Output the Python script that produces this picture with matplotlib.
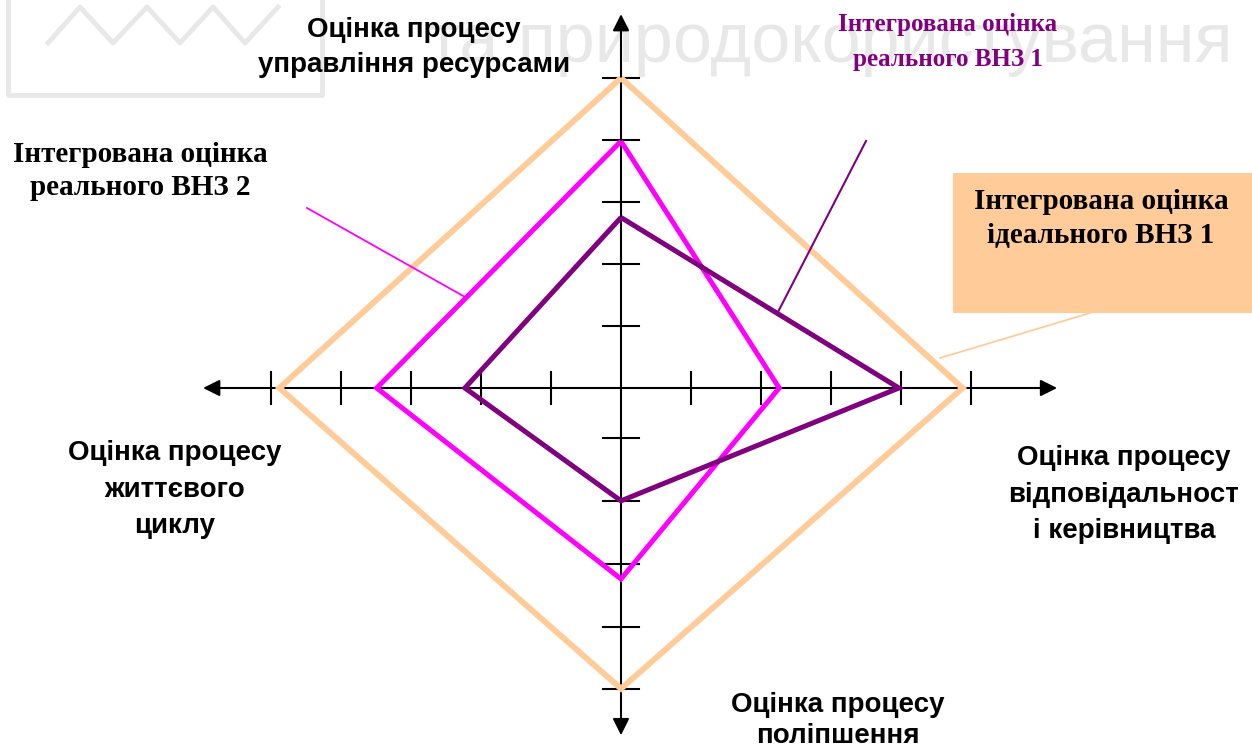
import matplotlib
matplotlib.use("Agg")
import matplotlib.pyplot as plt
from matplotlib.transforms import Affine2D
from matplotlib.patches import Rectangle

# axis order: top, right, bottom, left
axis_labels = [
    ["Оцінка процесу", "управління ресурсами"],
    ["Оцінка процесу", "відповідальност", "і керівництва"],
    ["Оцінка процесу", "поліпшення"],
    ["Оцінка процесу", "життєвого", "циклу"],
]
ideal = [5.0, 4.88, 4.85, 4.88]
real_1 = [2.75, 3.97, 1.82, 2.23]
real_2 = [3.98, 2.26, 3.08, 3.49]
tick_levels = [1, 2, 3, 4, 5]
tick_levels_bottom = [0.81, 1.82, 2.84, 3.85, 4.85]

series_names = ["Інтегрована оцінка\nідеального ВНЗ 1",
                "Інтегрована оцінка\nреального ВНЗ 2",
                "Інтегрована оцінка\nреального ВНЗ 1"]

PEACH = "#FFCC99"
MAGENTA = "#FF00FF"
PURPLE = "#800080"
WM = "#E8E8E8"

SANS = "Liberation Sans"
SERIF = "Liberation Serif"


def diamond(vals):
    xs = [0, vals[1], 0, -vals[3], 0]
    ys = [vals[0], 0, -vals[2], 0, vals[0]]
    return xs, ys


fig = plt.figure(figsize=(12.52, 7.46), dpi=100)
ax = fig.add_axes([0, 0, 1, 1])
ax.set_xlim(0, 1252)
ax.set_ylim(746, 0)
ax.axis("off")

# chart units -> pixels
tr = Affine2D().scale(70, -62).translate(621, 388) + ax.transData

# watermark
ax.plot([48, 80, 113, 147, 180, 213, 245, 278], [43, 7, 43, 7, 43, 7, 43, 7],
        color=WM, lw=3.5, zorder=0)
ax.plot([8, 8, 322, 322], [-10, 95, 95, -10], color=WM, lw=3.5, zorder=0)
wm = ax.text(1232, 62, "та природокористування", color=WM, fontsize=50,
             family=SANS, ha="right", va="baseline", zorder=0)
fig.canvas.draw()
bb = wm.get_window_extent()
wm.set_fontsize(50 * (1232 - 427) / bb.width)

# axes with arrows
arrow = dict(arrowstyle="<|-|>", color="black", lw=1.5, mutation_scale=25,
             shrinkA=0, shrinkB=0)
ax.annotate("", xy=(6.23, 0), xytext=(-5.97, 0), xycoords=tr, textcoords=tr,
            arrowprops=arrow, zorder=2)
ax.annotate("", xy=(0, 6.03), xytext=(0, -5.6), xycoords=tr, textcoords=tr,
            arrowprops=arrow, zorder=2)

for lv in tick_levels:
    for s in (1, -1):
        ax.plot([s * lv, s * lv], [-0.26, 0.26], color="black", lw=1.5,
                transform=tr, zorder=2)
    ax.plot([-0.26, 0.26], [lv, lv], color="black", lw=1.5, transform=tr, zorder=2)
for lv in tick_levels_bottom:
    ax.plot([-0.26, 0.26], [-lv, -lv], color="black", lw=1.5, transform=tr, zorder=2)

# series
for vals, col, lw in [(ideal, PEACH, 4.3), (real_2, MAGENTA, 3.6), (real_1, PURPLE, 3.6)]:
    xs, ys = diamond(vals)
    ax.plot(xs, ys, color=col, lw=lw, transform=tr, zorder=3,
            solid_joinstyle="miter", solid_capstyle="butt")

# axis labels
label_pos = [
    (414, [37, 72]),
    (1124, [465, 502, 538]),
    (838, [712, 743]),
    (175, [460, 497, 533]),
]
for lines, (cx, bases) in zip(axis_labels, label_pos):
    for line, by in zip(lines, bases):
        ax.text(cx, by, line, fontsize=20, fontweight="bold", family=SANS,
                ha="center", va="baseline", zorder=5)

# series callouts
ax.add_patch(Rectangle((953, 173), 320, 140, facecolor=PEACH, edgecolor="none", zorder=4))
ax.plot([1090, 940], [313, 358], color=PEACH, lw=1.3, zorder=4)
for line, by in zip(series_names[0].split("\n"), [209, 243]):
    ax.text(1101, by, line, fontsize=21, fontweight="bold", family=SERIF,
            ha="center", va="baseline", zorder=5)

ax.plot([307, 465], [208, 297], color=MAGENTA, lw=1.3, zorder=4)
for line, by in zip(series_names[1].split("\n"), [162, 195]):
    ax.text(140, by, line, fontsize=21, fontweight="bold", family=SERIF,
            ha="center", va="baseline", zorder=5)

ax.plot([866, 778], [141, 312], color=PURPLE, lw=1.5, zorder=4)
for line, by in zip(series_names[2].split("\n"), [31, 66]):
    ax.text(948, by, line, fontsize=18, fontweight="bold", family=SERIF,
            color=PURPLE, ha="center", va="baseline", zorder=5)

fig.savefig("out.png", dpi=100)
